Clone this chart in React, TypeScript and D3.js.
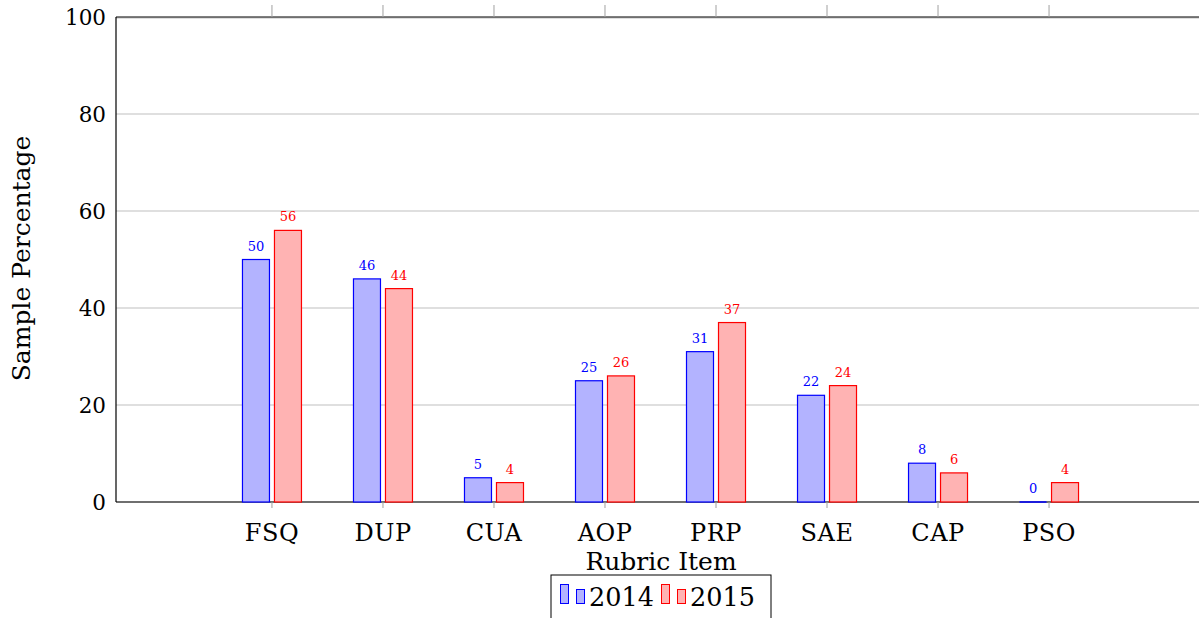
import React from "react";
import * as d3 from "d3";

const categories = ["FSQ", "DUP", "CUA", "AOP", "PRP", "SAE", "CAP", "PSO"];
const values2014 = [50, 46, 5, 25, 31, 22, 8, 0];
const values2015 = [56, 44, 4, 26, 37, 24, 6, 4];
const yTicks = [0, 20, 40, 60, 80, 100];
const seriesNames = ["2014", "2015"];

const W = 1199;
const H = 618;
const left = 116;
const right = 1205;
const top = 17;
const bottom = 502;
const FONT = "'DejaVu Serif', serif";

export default function App() {
  const x = d3.scaleLinear().domain([-1.405, categories.length - 1 + 1.405]).range([left, right]);
  const y = d3.scaleLinear().domain([0, 100]).range([bottom, top]);
  const barW = 27;
  const off = 16;
  const series = [
    { name: seriesNames[0], vals: values2014, fill: "#b3b3ff", stroke: "#0000ff", dx: -off },
    { name: seriesNames[1], vals: values2015, fill: "#ffb3b3", stroke: "#ff0000", dx: off },
  ];
  const midX = 661;
  return (
    <svg width={W} height={H} style={{ position: "absolute", left: 0, top: 0 }} fontFamily={FONT}>
      <rect width={W} height={H} fill="#fff" />
      {yTicks.map((t) => (
        <g key={t}>
          <line x1={left} x2={right} y1={y(t) + (t === 100 ? 1 : 0)} y2={y(t) + (t === 100 ? 1 : 0)} stroke="#bfbfbf" strokeWidth={1} />
          <text x={106} y={y(t)} dy="0.35em" textAnchor="end" fontSize={21.5}>{t}</text>
        </g>
      ))}
      <line x1={left} x2={right} y1={top} y2={top} stroke="#000" strokeWidth={1.2} />
      <line x1={left} x2={right} y1={bottom} y2={bottom} stroke="#000" strokeWidth={1.2} />
      <line x1={left} x2={left} y1={top} y2={bottom} stroke="#000" strokeWidth={1.2} />
      {categories.map((c, i) => (
        <g key={c}>
          <line x1={x(i)} x2={x(i)} y1={bottom} y2={bottom + 6} stroke="#a0a0a0" />
          <line x1={x(i)} x2={x(i)} y1={top} y2={top - 12} stroke="#a0a0a0" />
          <text x={x(i)} y={541} textAnchor="middle" fontSize={24} letterSpacing={0.5}>{c}</text>
        </g>
      ))}
      {series.map((s) =>
        s.vals.map((v, i) => {
          const h = bottom - y(v);
          const bx = x(i) + s.dx - barW / 2;
          return (
            <g key={s.name + i}>
              {h > 0 ? (
                <rect x={bx} y={y(v)} width={barW} height={h} fill={s.fill} stroke={s.stroke} strokeWidth={1.2} />
              ) : (
                <line x1={bx} x2={bx + barW} y1={y(v)} y2={y(v)} stroke={s.stroke} strokeWidth={1.5} />
              )}
              <text x={x(i) + s.dx} y={y(v) - 9} textAnchor="middle" fontSize={13} fill={s.stroke}>{v}</text>
            </g>
          );
        })
      )}
      <text x={midX} y={570} textAnchor="middle" fontSize={25}>Rubric Item</text>
      <text transform={`translate(30,${(135 + 382) / 2}) rotate(-90)`} textAnchor="middle" fontSize={25}>Sample Percentage</text>
      <g>
        <rect x={551} y={575} width={220} height={60} fill="#fff" stroke="#000" strokeWidth={1} />
        <rect x={560.5} y={584.5} width={8} height={19} fill="#b3b3ff" stroke="#0000ff" />
        <rect x={576.5} y={589.5} width={8} height={14} fill="#b3b3ff" stroke="#0000ff" />
        <text x={589} y={606} fontSize={25.5}>{seriesNames[0]}</text>
        <rect x={661.5} y={584.5} width={8} height={19} fill="#ffb3b3" stroke="#ff0000" />
        <rect x={677.5} y={589.5} width={8} height={14} fill="#ffb3b3" stroke="#ff0000" />
        <text x={690} y={606} fontSize={25.5}>{seriesNames[1]}</text>
      </g>
    </svg>
  );
}
